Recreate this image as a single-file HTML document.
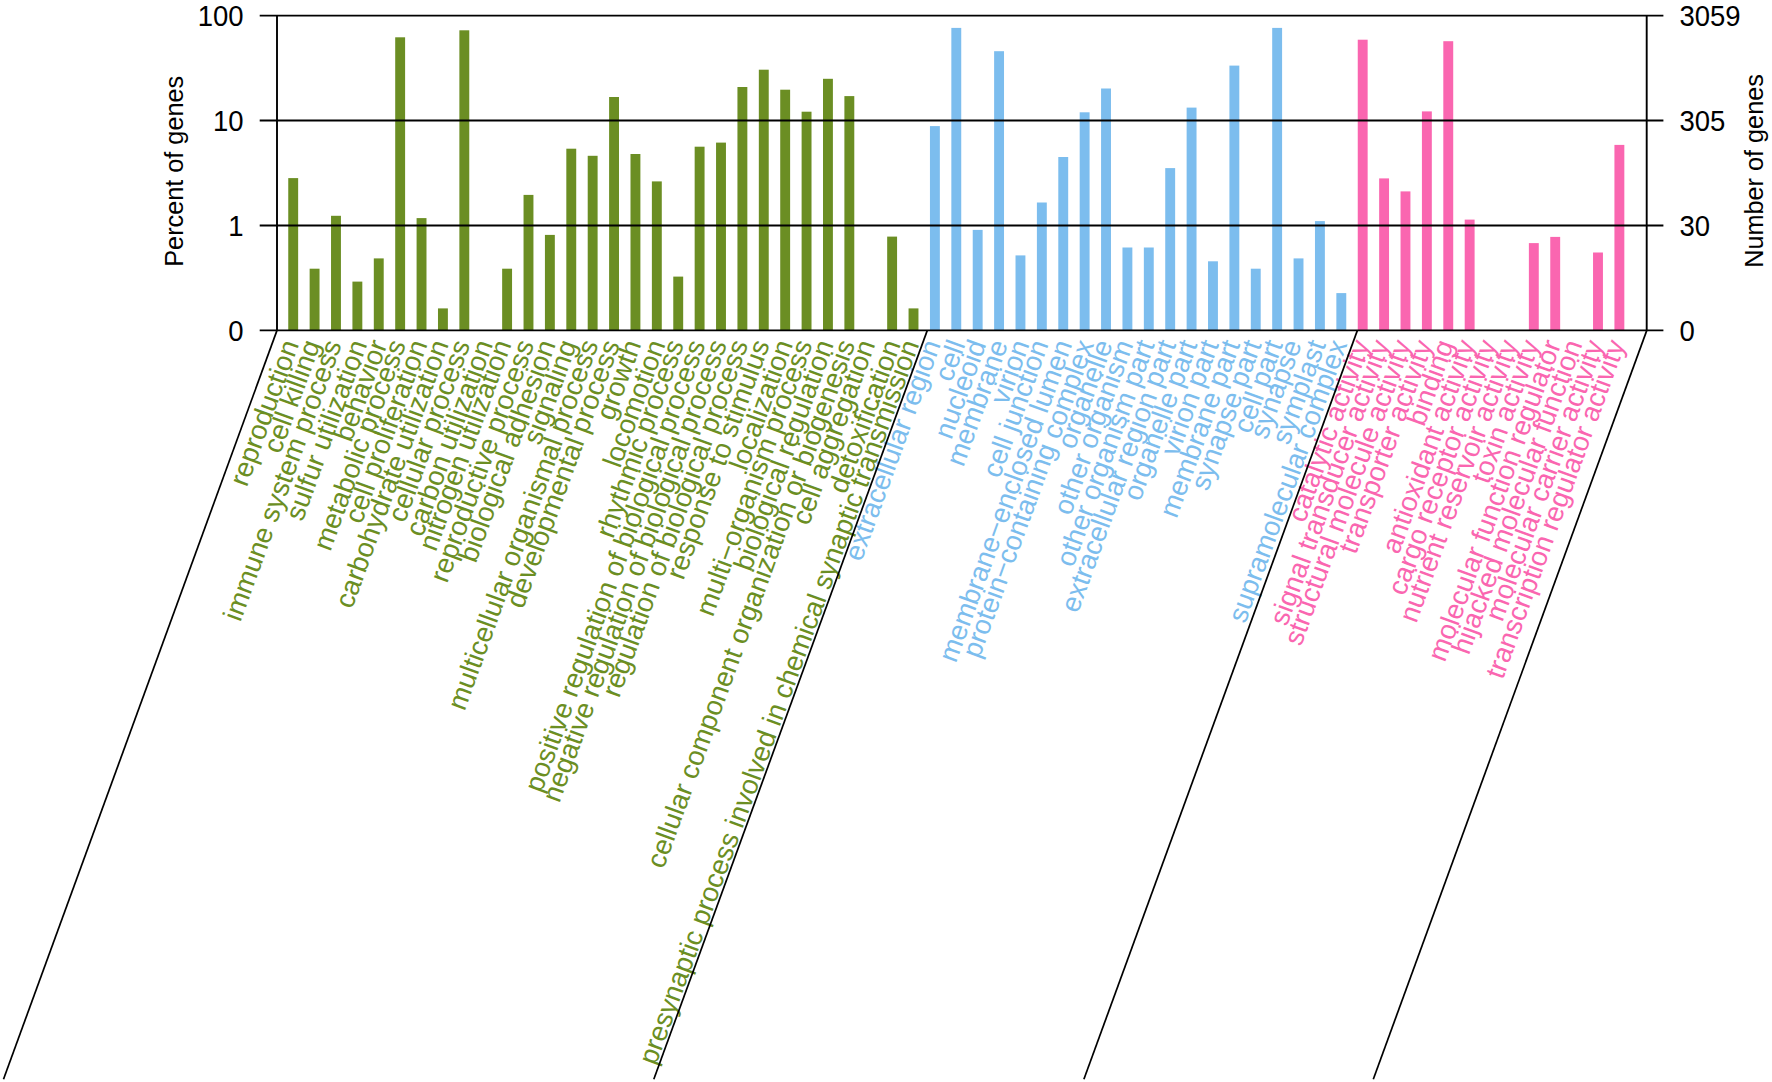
<!DOCTYPE html>
<html lang="en"><head><meta charset="utf-8"><title>GO classification</title>
<style>html,body{margin:0;padding:0;background:#fff}svg{display:block}text{font-family:"Liberation Sans",sans-serif}</style></head><body>
<svg width="1772" height="1082" viewBox="0 0 1772 1082">
<rect width="1772" height="1082" fill="#fff"/>
<g>
<rect x="288.25" y="178.1" width="9.9" height="152.3" fill="#6B8E23"/>
<rect x="309.64" y="268.7" width="9.9" height="61.7" fill="#6B8E23"/>
<rect x="331.03" y="215.8" width="9.9" height="114.6" fill="#6B8E23"/>
<rect x="352.42" y="281.6" width="9.9" height="48.8" fill="#6B8E23"/>
<rect x="373.81" y="258.4" width="9.9" height="72.0" fill="#6B8E23"/>
<rect x="395.20" y="37.3" width="9.9" height="293.1" fill="#6B8E23"/>
<rect x="416.59" y="218.1" width="9.9" height="112.3" fill="#6B8E23"/>
<rect x="437.98" y="308.4" width="9.9" height="22.0" fill="#6B8E23"/>
<rect x="459.37" y="30.3" width="9.9" height="300.1" fill="#6B8E23"/>
<rect x="502.15" y="268.7" width="9.9" height="61.7" fill="#6B8E23"/>
<rect x="523.54" y="194.9" width="9.9" height="135.5" fill="#6B8E23"/>
<rect x="544.93" y="234.9" width="9.9" height="95.5" fill="#6B8E23"/>
<rect x="566.32" y="148.7" width="9.9" height="181.7" fill="#6B8E23"/>
<rect x="587.71" y="155.8" width="9.9" height="174.6" fill="#6B8E23"/>
<rect x="609.10" y="97.0" width="9.9" height="233.4" fill="#6B8E23"/>
<rect x="630.49" y="154.0" width="9.9" height="176.4" fill="#6B8E23"/>
<rect x="651.88" y="181.4" width="9.9" height="149.0" fill="#6B8E23"/>
<rect x="673.27" y="276.6" width="9.9" height="53.8" fill="#6B8E23"/>
<rect x="694.66" y="146.7" width="9.9" height="183.7" fill="#6B8E23"/>
<rect x="716.05" y="142.6" width="9.9" height="187.8" fill="#6B8E23"/>
<rect x="737.44" y="87.0" width="9.9" height="243.4" fill="#6B8E23"/>
<rect x="758.83" y="69.7" width="9.9" height="260.7" fill="#6B8E23"/>
<rect x="780.22" y="89.7" width="9.9" height="240.7" fill="#6B8E23"/>
<rect x="801.61" y="111.7" width="9.9" height="218.7" fill="#6B8E23"/>
<rect x="823.00" y="78.8" width="9.9" height="251.6" fill="#6B8E23"/>
<rect x="844.39" y="96.1" width="9.9" height="234.3" fill="#6B8E23"/>
<rect x="887.17" y="236.6" width="9.9" height="93.8" fill="#6B8E23"/>
<rect x="908.56" y="308.4" width="9.9" height="22.0" fill="#6B8E23"/>
<rect x="929.95" y="126.1" width="9.9" height="204.3" fill="#7CBDEE"/>
<rect x="951.34" y="27.9" width="9.9" height="302.5" fill="#7CBDEE"/>
<rect x="972.73" y="229.9" width="9.9" height="100.5" fill="#7CBDEE"/>
<rect x="994.12" y="51.2" width="9.9" height="279.2" fill="#7CBDEE"/>
<rect x="1015.51" y="255.4" width="9.9" height="75.0" fill="#7CBDEE"/>
<rect x="1036.90" y="202.5" width="9.9" height="127.9" fill="#7CBDEE"/>
<rect x="1058.29" y="157.0" width="9.9" height="173.4" fill="#7CBDEE"/>
<rect x="1079.68" y="112.3" width="9.9" height="218.1" fill="#7CBDEE"/>
<rect x="1101.07" y="88.5" width="9.9" height="241.9" fill="#7CBDEE"/>
<rect x="1122.46" y="247.5" width="9.9" height="82.9" fill="#7CBDEE"/>
<rect x="1143.85" y="247.5" width="9.9" height="82.9" fill="#7CBDEE"/>
<rect x="1165.24" y="168.1" width="9.9" height="162.3" fill="#7CBDEE"/>
<rect x="1186.63" y="107.6" width="9.9" height="222.8" fill="#7CBDEE"/>
<rect x="1208.02" y="261.3" width="9.9" height="69.1" fill="#7CBDEE"/>
<rect x="1229.41" y="65.6" width="9.9" height="264.8" fill="#7CBDEE"/>
<rect x="1250.80" y="268.7" width="9.9" height="61.7" fill="#7CBDEE"/>
<rect x="1272.19" y="27.9" width="9.9" height="302.5" fill="#7CBDEE"/>
<rect x="1293.58" y="258.4" width="9.9" height="72.0" fill="#7CBDEE"/>
<rect x="1314.97" y="221.1" width="9.9" height="109.3" fill="#7CBDEE"/>
<rect x="1336.36" y="293.1" width="9.9" height="37.3" fill="#7CBDEE"/>
<rect x="1357.75" y="39.7" width="9.9" height="290.7" fill="#FA66B0"/>
<rect x="1379.14" y="178.4" width="9.9" height="152.0" fill="#FA66B0"/>
<rect x="1400.53" y="191.4" width="9.9" height="139.0" fill="#FA66B0"/>
<rect x="1421.92" y="111.4" width="9.9" height="219.0" fill="#FA66B0"/>
<rect x="1443.31" y="41.2" width="9.9" height="289.2" fill="#FA66B0"/>
<rect x="1464.70" y="219.6" width="9.9" height="110.8" fill="#FA66B0"/>
<rect x="1528.87" y="243.1" width="9.9" height="87.3" fill="#FA66B0"/>
<rect x="1550.26" y="236.9" width="9.9" height="93.5" fill="#FA66B0"/>
<rect x="1593.04" y="252.5" width="9.9" height="77.9" fill="#FA66B0"/>
<rect x="1614.43" y="144.9" width="9.9" height="185.5" fill="#FA66B0"/>
</g>
<g font-size="27.5" text-anchor="end">
<text transform="translate(299.30 344.2) rotate(-69.93)" fill="#6B8E23">reproduction</text>
<text transform="translate(320.69 344.2) rotate(-69.93)" fill="#6B8E23">cell killing</text>
<text transform="translate(342.08 344.2) rotate(-69.93)" fill="#6B8E23">immune system process</text>
<text transform="translate(367.47 344.2) rotate(-69.93)" fill="#6B8E23">sulfur utilization</text>
<text transform="translate(387.56 344.2) rotate(-69.93)" fill="#6B8E23">behavior</text>
<text transform="translate(406.25 344.2) rotate(-69.93)" fill="#6B8E23">metabolic process</text>
<text transform="translate(427.64 344.2) rotate(-69.93)" fill="#6B8E23">cell proliferation</text>
<text transform="translate(449.03 344.2) rotate(-69.93)" fill="#6B8E23">carbohydrate utilization</text>
<text transform="translate(470.42 344.2) rotate(-69.93)" fill="#6B8E23">cellular process</text>
<text transform="translate(493.21 344.2) rotate(-69.93)" fill="#6B8E23">carbon utilization</text>
<text transform="translate(511.70 344.2) rotate(-69.93)" fill="#6B8E23">nitrogen utilization</text>
<text transform="translate(534.59 344.2) rotate(-69.93)" fill="#6B8E23">reproductive process</text>
<text transform="translate(555.98 344.2) rotate(-69.93)" fill="#6B8E23">biological adhesion</text>
<text transform="translate(577.37 344.2) rotate(-69.93)" fill="#6B8E23">signaling</text>
<text transform="translate(598.76 344.2) rotate(-69.93)" fill="#6B8E23">multicellular organismal process</text>
<text transform="translate(620.15 344.2) rotate(-69.93)" fill="#6B8E23">developmental process</text>
<text transform="translate(641.54 344.2) rotate(-69.93)" fill="#6B8E23">growth</text>
<text transform="translate(665.63 344.2) rotate(-69.93)" fill="#6B8E23">locomotion</text>
<text transform="translate(684.32 344.2) rotate(-69.93)" fill="#6B8E23">rhythmic process</text>
<text transform="translate(705.71 344.2) rotate(-69.93)" fill="#6B8E23">positive regulation of biological process</text>
<text transform="translate(727.10 344.2) rotate(-69.93)" fill="#6B8E23">negative regulation of biological process</text>
<text transform="translate(748.49 344.2) rotate(-69.93)" fill="#6B8E23">regulation of biological process</text>
<text transform="translate(769.88 344.2) rotate(-69.93)" fill="#6B8E23">response to stimulus</text>
<text transform="translate(793.27 344.2) rotate(-69.93)" fill="#6B8E23">localization</text>
<text transform="translate(812.66 344.2) rotate(-69.93)" fill="#6B8E23">multi−organism process</text>
<text transform="translate(834.05 344.2) rotate(-69.93)" fill="#6B8E23">biological regulation</text>
<text transform="translate(855.44 344.2) rotate(-69.93)" fill="#6B8E23">cellular component organization or biogenesis</text>
<text transform="translate(875.43 344.2) rotate(-69.93)" fill="#6B8E23">cell aggregation</text>
<text transform="translate(900.92 344.2) rotate(-69.93)" fill="#6B8E23">detoxification</text>
<text transform="translate(919.61 344.2) rotate(-69.93)" fill="#6B8E23">presynaptic process involved in chemical synaptic transmission</text>
<text transform="translate(941.00 344.2) rotate(-69.93)" fill="#7CBDEE">extracellular region</text>
<text transform="translate(965.59 344.2) rotate(-69.93)" fill="#7CBDEE">cell</text>
<text transform="translate(986.48 344.2) rotate(-69.93)" fill="#7CBDEE">nucleoid</text>
<text transform="translate(1008.37 344.2) rotate(-69.93)" fill="#7CBDEE">membrane</text>
<text transform="translate(1029.76 344.2) rotate(-69.93)" fill="#7CBDEE">virion</text>
<text transform="translate(1048.85 344.2) rotate(-69.93)" fill="#7CBDEE">cell junction</text>
<text transform="translate(1072.54 344.2) rotate(-69.93)" fill="#7CBDEE">membrane−enclosed lumen</text>
<text transform="translate(1094.33 344.2) rotate(-69.93)" fill="#7CBDEE">protein−containing complex</text>
<text transform="translate(1113.02 344.2) rotate(-69.93)" fill="#7CBDEE">organelle</text>
<text transform="translate(1133.51 344.2) rotate(-69.93)" fill="#7CBDEE">other organism</text>
<text transform="translate(1154.90 344.2) rotate(-69.93)" fill="#7CBDEE">other organism part</text>
<text transform="translate(1176.29 344.2) rotate(-69.93)" fill="#7CBDEE">extracellular region part</text>
<text transform="translate(1197.68 344.2) rotate(-69.93)" fill="#7CBDEE">organelle part</text>
<text transform="translate(1219.07 344.2) rotate(-69.93)" fill="#7CBDEE">virion part</text>
<text transform="translate(1240.46 344.2) rotate(-69.93)" fill="#7CBDEE">membrane part</text>
<text transform="translate(1261.85 344.2) rotate(-69.93)" fill="#7CBDEE">synapse part</text>
<text transform="translate(1283.24 344.2) rotate(-69.93)" fill="#7CBDEE">cell part</text>
<text transform="translate(1301.93 344.2) rotate(-69.93)" fill="#7CBDEE">synapse</text>
<text transform="translate(1326.02 344.2) rotate(-69.93)" fill="#7CBDEE">symplast</text>
<text transform="translate(1347.41 344.2) rotate(-69.93)" fill="#7CBDEE">supramolecular complex</text>
<text transform="translate(1370.20 344.2) rotate(-69.93)" fill="#FA66B0">catalytic activity</text>
<text transform="translate(1390.19 344.2) rotate(-69.93)" fill="#FA66B0">signal transducer activity</text>
<text transform="translate(1411.58 344.2) rotate(-69.93)" fill="#FA66B0">structural molecule activity</text>
<text transform="translate(1432.97 344.2) rotate(-69.93)" fill="#FA66B0">transporter activity</text>
<text transform="translate(1454.36 344.2) rotate(-69.93)" fill="#FA66B0">binding</text>
<text transform="translate(1475.75 344.2) rotate(-69.93)" fill="#FA66B0">antioxidant activity</text>
<text transform="translate(1497.14 344.2) rotate(-69.93)" fill="#FA66B0">cargo receptor activity</text>
<text transform="translate(1518.53 344.2) rotate(-69.93)" fill="#FA66B0">nutrient reservoir activity</text>
<text transform="translate(1539.92 344.2) rotate(-69.93)" fill="#FA66B0">toxin activity</text>
<text transform="translate(1561.31 344.2) rotate(-69.93)" fill="#FA66B0">molecular function regulator</text>
<text transform="translate(1582.70 344.2) rotate(-69.93)" fill="#FA66B0">hijacked molecular function</text>
<text transform="translate(1604.09 344.2) rotate(-69.93)" fill="#FA66B0">molecular carrier activity</text>
<text transform="translate(1625.48 344.2) rotate(-69.93)" fill="#FA66B0">transcription regulator activity</text>
</g>
<g stroke="#000" stroke-width="1.9" fill="none">
<line x1="259.7" y1="15.6" x2="1663.4" y2="15.6"/>
<line x1="259.7" y1="120.52" x2="1663.4" y2="120.52"/>
<line x1="259.7" y1="225.46" x2="1663.4" y2="225.46"/>
<line x1="259.7" y1="330.36" x2="1663.4" y2="330.36"/>
<line x1="277.0" y1="15.6" x2="277.0" y2="330.36"/>
<line x1="1646.7" y1="15.6" x2="1646.7" y2="330.36"/>
<line x1="277.0" y1="330.36" x2="3.5" y2="1079.2" stroke-width="1.7"/>
<line x1="927.3" y1="330.36" x2="653.8" y2="1079.2" stroke-width="1.7"/>
<line x1="1357.4" y1="330.36" x2="1083.9" y2="1079.2" stroke-width="1.7"/>
<line x1="1646.8" y1="330.36" x2="1373.3" y2="1079.2" stroke-width="1.7"/>
</g>
<g font-size="27.5" fill="#000">
<text transform="translate(243.5 25.50) scale(1 1.07)" text-anchor="end">100</text>
<text transform="translate(243.5 130.77) scale(1 1.07)" text-anchor="end">10</text>
<text transform="translate(243.5 235.66) scale(1 1.07)" text-anchor="end">1</text>
<text transform="translate(243.5 340.96) scale(1 1.07)" text-anchor="end">0</text>
<text transform="translate(1679.5 25.50) scale(1 1.07)">3059</text>
<text transform="translate(1679.5 130.77) scale(1 1.07)">305</text>
<text transform="translate(1679.5 235.66) scale(1 1.07)">30</text>
<text transform="translate(1679.5 340.96) scale(1 1.07)">0</text>
</g>
<g font-size="25.25" fill="#000" text-anchor="middle">
<text transform="translate(182.6 171.3) rotate(-90)">Percent of genes</text>
<text transform="translate(1762.5 171) rotate(-90)">Number of genes</text>
</g>
</svg></body></html>
